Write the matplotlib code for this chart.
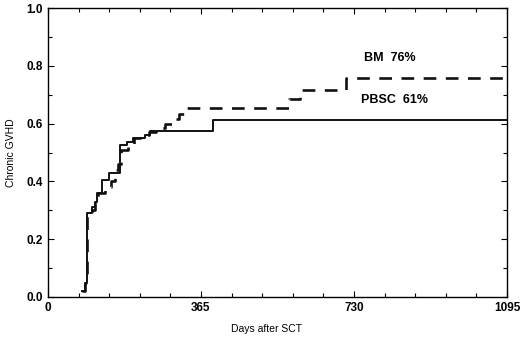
import matplotlib.pyplot as plt
import numpy as np

# step data (days, cumulative incidence)
pbsc_days = [0, 81, 88, 92, 104, 112, 117, 128, 146, 160, 172, 188, 203, 231, 243, 394, 1095]
pbsc_vals = [0.0, 0.02, 0.05, 0.29, 0.31, 0.33, 0.36, 0.405, 0.43, 0.43, 0.525, 0.537, 0.55, 0.56, 0.575, 0.612, 0.612]

bm_days = [0, 81, 88, 92, 104, 112, 120, 135, 150, 160, 168, 175, 190, 205, 225, 240, 258,
           280, 300, 312, 327, 575, 600, 710, 1095]
bm_vals = [0.0, 0.02, 0.05, 0.28, 0.30, 0.33, 0.36, 0.38, 0.40, 0.44, 0.46, 0.51, 0.53, 0.55,
           0.56, 0.57, 0.585, 0.60, 0.615, 0.635, 0.655, 0.685, 0.715, 0.758, 0.758]

plt.rcParams['font.family'] = ['Liberation Sans', 'DejaVu Sans']

fig = plt.figure(figsize=(5.2, 3.37), dpi=100)
ax = fig.add_axes([0.0923, 0.1187, 0.8827, 0.8573])

ax.step(bm_days[1:], bm_vals[1:], where='post', color='#111111', lw=1.9,
        dashes=(4.8, 3.6))
ax.step(pbsc_days[1:], pbsc_vals[1:], where='post', color='#111111', lw=1.4)

ax.set_xlim(0, 1095)
ax.set_ylim(0, 1.0)
ax.set_xticks([0, 365, 730, 1095])
ax.set_xticks(np.arange(0, 1096, 73), minor=True)
ax.set_yticks(np.arange(0, 1.01, 0.2))
ax.set_yticks(np.arange(0, 1.01, 0.1), minor=True)
ax.set_yticklabels(['0.0', '0.2', '0.4', '0.6', '0.8', '1.0'])
ax.tick_params(which='both', direction='in', top=True, right=True, width=0.8)
ax.tick_params(which='major', length=4, labelsize=8.5)
ax.tick_params(which='minor', length=3)
for lab in ax.get_xticklabels() + ax.get_yticklabels():
    lab.set_fontweight('bold')
for s in ax.spines.values():
    s.set_linewidth(1.0)

ax.set_xlabel('Days after SCT', fontsize=7.5, labelpad=9)
ax.xaxis.set_label_coords(0.475, -0.095)
ax.set_ylabel('Chronic GVHD', fontsize=7.5, labelpad=8)

ax.text(753, 0.826, 'BM  76%', fontsize=9, fontweight='bold', va='center')
ax.text(746, 0.683, 'PBSC  61%', fontsize=9, fontweight='bold', va='center')

fig.savefig('out.png', dpi=100)
